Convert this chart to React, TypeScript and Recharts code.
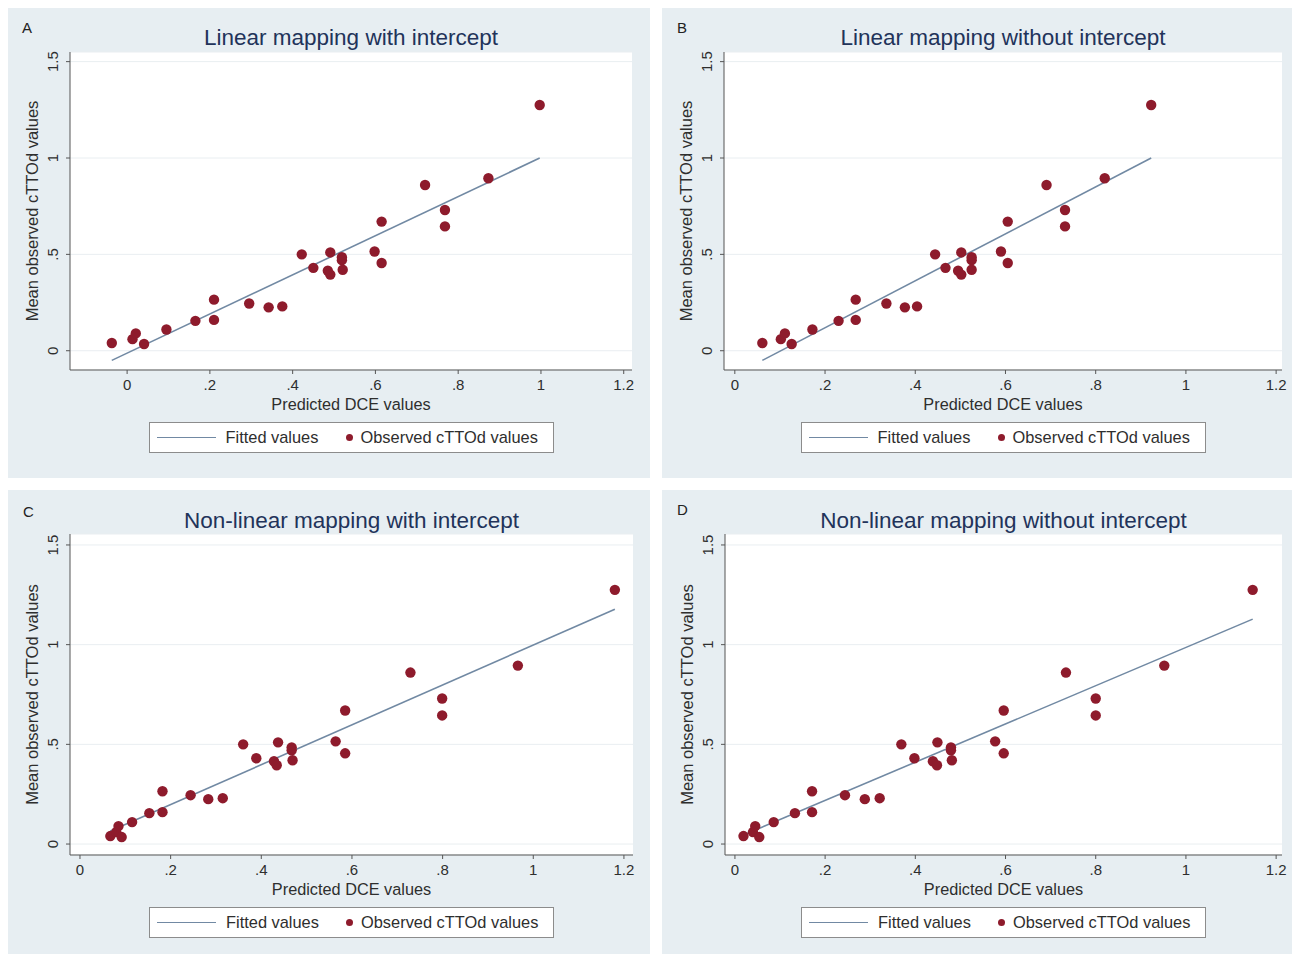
import React from 'react';
import { ScatterChart, Scatter, XAxis, YAxis, CartesianGrid, Label } from 'recharts';

// ---------- data ----------
const xTicks = [0, 0.2, 0.4, 0.6, 0.8, 1, 1.2];
const yTicks = [0, 0.5, 1, 1.5];

const observedY = [0.04, 0.06, 0.09, 0.035, 0.11, 0.155, 0.265, 0.16, 0.245, 0.225, 0.23, 0.5, 0.43, 0.415, 0.395, 0.51, 0.485, 0.47, 0.42, 0.515, 0.67, 0.455, 0.86, 0.73, 0.645, 0.895, 1.275];

const predA = [-0.037, 0.013, 0.021, 0.041, 0.095, 0.165, 0.21, 0.21, 0.295, 0.342, 0.375, 0.422, 0.45, 0.485, 0.491, 0.491, 0.519, 0.519, 0.521, 0.598, 0.615, 0.615, 0.72, 0.768, 0.768, 0.873, 0.997];
const predB = [0.061, 0.102, 0.111, 0.126, 0.172, 0.23, 0.268, 0.268, 0.336, 0.377, 0.404, 0.444, 0.467, 0.495, 0.502, 0.502, 0.525, 0.525, 0.525, 0.59, 0.605, 0.605, 0.691, 0.732, 0.732, 0.82, 0.923];
const predC = [0.067, 0.08, 0.085, 0.092, 0.115, 0.153, 0.182, 0.182, 0.244, 0.283, 0.315, 0.36, 0.389, 0.428, 0.434, 0.437, 0.467, 0.467, 0.469, 0.564, 0.585, 0.585, 0.729, 0.799, 0.799, 0.966, 1.18];
const predD = [0.019, 0.04, 0.045, 0.054, 0.086, 0.133, 0.171, 0.171, 0.244, 0.288, 0.321, 0.369, 0.398, 0.439, 0.448, 0.449, 0.479, 0.479, 0.481, 0.577, 0.596, 0.596, 0.734, 0.8, 0.8, 0.952, 1.148];

const fitAx = [-0.037, 0.997];
const fitAy = [-0.05, 1.0];
const fitBx = [0.061, 0.923];
const fitBy = [-0.05, 1.0];
const fitCx = [0.067, 1.18];
const fitCy = [0.065, 1.178];
const fitDx = [0.019, 1.148];
const fitDy = [0.045, 1.128];

const titles = [
  'Linear mapping with intercept',
  'Linear mapping without intercept',
  'Non-linear mapping with intercept',
  'Non-linear mapping without intercept',
];
const letters = ['A', 'B', 'C', 'D'];
const xLabel = 'Predicted DCE values';
const yLabel = 'Mean observed cTTOd values';
const legendFit = 'Fitted values';
const legendObs = 'Observed cTTOd values';

// ---------- styles ----------
const FONT = '"Liberation Sans", Arial, Helvetica, sans-serif';
const PANEL_BG = '#e7eef2';
const TITLE_COLOR = '#22335a';
const TEXT_COLOR = '#2e2e2e';
const DOT_COLOR = '#8e1b2c';
const LINE_COLOR = '#7189a3';
const AXIS_COLOR = '#555555';
const GRID_COLOR = '#e9eef1';

const fmt = (v: number) => {
  const s = String(v);
  return s.startsWith('0.') ? s.slice(1) : s;
};

const toPoints = (xs: number[], ys: number[]) => xs.map((x, i) => ({ x, y: ys[i] }));

const YTick = (props: any) => {
  const { x, y, payload } = props;
  return (
    <text
      x={x}
      y={y}
      transform={`rotate(-90, ${x}, ${y})`}
      textAnchor="middle"
      fontSize={15}
      fill={TEXT_COLOR}
      fontFamily={FONT}
    >
      {fmt(payload.value)}
    </text>
  );
};

const Dot = (props: any) => {
  const { cx, cy } = props;
  if (cx == null || cy == null) return <g />;
  return <circle cx={cx} cy={cy} r={5.2} fill={DOT_COLOR} />;
};

const NoShape = () => <g />;

const YTitle = (props: any) => {
  const vb = props.viewBox || {};
  const x = vb.x + vb.width - 32;
  const y = vb.y + vb.height / 2;
  return (
    <text
      x={x}
      y={y}
      transform={`rotate(-90, ${x}, ${y})`}
      textAnchor="middle"
      fontSize={16.5}
      fill={TEXT_COLOR}
      fontFamily={FONT}
    >
      {yLabel}
    </text>
  );
};

const XTitle = (props: any) => {
  const vb = props.viewBox || {};
  return (
    <text
      x={vb.x + vb.width / 2}
      y={vb.y + 40}
      textAnchor="middle"
      fontSize={16.3}
      fill={TEXT_COLOR}
      fontFamily={FONT}
    >
      {xLabel}
    </text>
  );
};

type PanelProps = {
  left: number;
  top: number;
  width: number;
  height: number;
  plotLeft: number;
  plotRight: number;
  plotTop: number;
  plotBottom: number;
  xDomain: [number, number];
  yDomain: [number, number];
  title: string;
  letter: string;
  pred: number[];
  fitX: number[];
  fitY: number[];
  letterPos: [number, number];
  titleTop: number;
  legendTop: number;
};

const Panel = (p: PanelProps) => {
  const obs = toPoints(p.pred, observedY);
  const fit = toPoints(p.fitX, p.fitY);
  const xAxisH = 30;
  const margin = {
    top: p.plotTop,
    right: p.width - p.plotRight,
    bottom: p.height - p.plotBottom - xAxisH,
    left: 0,
  };
  const plotCenter = (p.plotLeft + p.plotRight) / 2;
  const legendW = 405;
  return (
    <div
      style={{
        position: 'absolute',
        left: p.left,
        top: p.top,
        width: p.width,
        height: p.height,
        background: PANEL_BG,
        fontFamily: FONT,
      }}
    >
      <div
        style={{
          position: 'absolute',
          left: p.letterPos[0],
          top: p.letterPos[1],
          fontSize: 15,
          color: '#222',
          lineHeight: '16px',
        }}
      >
        {p.letter}
      </div>
      <div
        style={{
          position: 'absolute',
          left: plotCenter - 260,
          width: 520,
          top: p.titleTop,
          textAlign: 'center',
          fontSize: 22.5,
          lineHeight: '26px',
          color: TITLE_COLOR,
        }}
      >
        {p.title}
      </div>
      <ScatterChart width={p.width} height={p.height} margin={margin} style={{ position: 'absolute', left: 0, top: 0 }}>
        <CartesianGrid horizontal vertical={false} fill="#ffffff" stroke={GRID_COLOR} strokeWidth={1} />
        <XAxis
          type="number"
          dataKey="x"
          domain={p.xDomain}
          allowDataOverflow
          ticks={xTicks}
          tickFormatter={fmt}
          height={xAxisH}
          tickSize={4}
          tickMargin={5}
          stroke={AXIS_COLOR}
          tick={{ fontSize: 15, fill: TEXT_COLOR, fontFamily: FONT }}
        >
          <Label content={<XTitle />} />
        </XAxis>
        <YAxis
          type="number"
          dataKey="y"
          domain={p.yDomain}
          allowDataOverflow
          ticks={yTicks}
          width={p.plotLeft}
          tickSize={4}
          tickMargin={8}
          stroke={AXIS_COLOR}
          tick={<YTick />}
        >
          <Label content={<YTitle />} />
        </YAxis>
        <Scatter
          data={fit}
          line={{ stroke: LINE_COLOR, strokeWidth: 1.6 }}
          shape={<NoShape />}
          isAnimationActive={false}
        />
        <Scatter data={obs} shape={<Dot />} isAnimationActive={false} />
      </ScatterChart>
      <div
        style={{
          position: 'absolute',
          left: plotCenter - legendW / 2,
          top: p.legendTop,
          width: legendW,
          height: 31,
          boxSizing: 'border-box',
          background: '#ffffff',
          border: '1px solid #8c8c8c',
          fontSize: 16.4,
          color: TEXT_COLOR,
        }}
      >
        <div style={{ position: 'absolute', left: 7, top: 14, width: 59, height: 0, borderTop: `1.6px solid ${LINE_COLOR}` }} />
        <div style={{ position: 'absolute', left: 76, top: 5, lineHeight: '19px', whiteSpace: 'nowrap' }}>{legendFit}</div>
        <div
          style={{
            position: 'absolute',
            left: 196,
            top: 11,
            width: 7,
            height: 7,
            borderRadius: '50%',
            background: DOT_COLOR,
          }}
        />
        <div style={{ position: 'absolute', left: 211, top: 5, lineHeight: '19px', whiteSpace: 'nowrap' }}>{legendObs}</div>
      </div>
    </div>
  );
};

export default function App() {
  return (
    <div style={{ position: 'absolute', left: 0, top: 0, width: 1292, height: 954, background: '#ffffff', overflow: 'hidden' }}>
      <Panel
        left={8}
        top={8}
        width={642}
        height={470}
        plotLeft={62}
        plotRight={624}
        plotTop={44}
        plotBottom={362}
        xDomain={[-0.138, 1.22]}
        yDomain={[-0.1, 1.55]}
        title={titles[0]}
        letter={letters[0]}
        pred={predA}
        fitX={fitAx}
        fitY={fitAy}
        letterPos={[14, 12]}
        titleTop={17}
        legendTop={414}
      />
      <Panel
        left={662}
        top={8}
        width={630}
        height={470}
        plotLeft={62}
        plotRight={620}
        plotTop={44}
        plotBottom={362}
        xDomain={[-0.024, 1.213]}
        yDomain={[-0.1, 1.55]}
        title={titles[1]}
        letter={letters[1]}
        pred={predB}
        fitX={fitBx}
        fitY={fitBy}
        letterPos={[15, 12]}
        titleTop={17}
        legendTop={414}
      />
      <Panel
        left={8}
        top={490}
        width={642}
        height={464}
        plotLeft={62}
        plotRight={625}
        plotTop={44}
        plotBottom={365}
        xDomain={[-0.022, 1.22]}
        yDomain={[-0.055, 1.555]}
        title={titles[2]}
        letter={letters[2]}
        pred={predC}
        fitX={fitCx}
        fitY={fitCy}
        letterPos={[15, 14]}
        titleTop={18}
        legendTop={417}
      />
      <Panel
        left={662}
        top={490}
        width={630}
        height={464}
        plotLeft={63}
        plotRight={620}
        plotTop={44}
        plotBottom={365}
        xDomain={[-0.022, 1.213]}
        yDomain={[-0.055, 1.555]}
        title={titles[3]}
        letter={letters[3]}
        pred={predD}
        fitX={fitDx}
        fitY={fitDy}
        letterPos={[15, 12]}
        titleTop={18}
        legendTop={417}
      />
    </div>
  );
}
